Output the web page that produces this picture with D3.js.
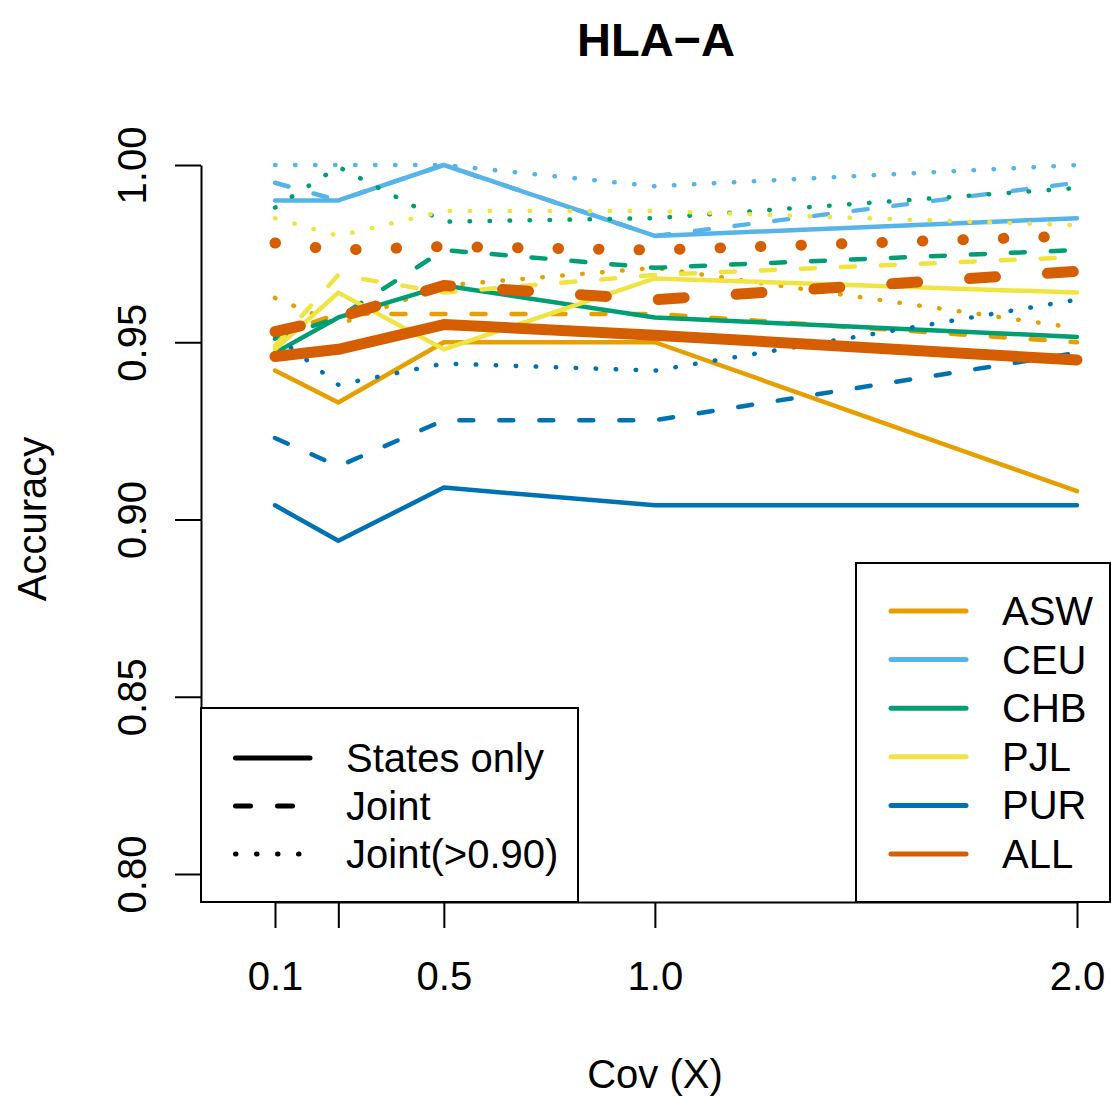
<!DOCTYPE html>
<html>
<head>
<meta charset="utf-8">
<script src="https://cdn.jsdelivr.net/npm/d3@7"></script>
<style>
body { margin: 0; background: #fff; }
svg { display: block; font-family: 'Liberation Sans', Arial, sans-serif; }
</style>
</head>
<body>
<svg></svg>
<script>
const width = 1111;
const height = 1100;

const coverage = [0.1, 0.25, 0.5, 1.0, 2.0];
const xTickLabels = ['0.1', '', '0.5', '1.0', '2.0'];
const yTicks = [0.80, 0.85, 0.90, 0.95, 1.00];
const populations = ['ASW', 'CEU', 'CHB', 'PJL', 'PUR', 'ALL'];
const colors = ['#E69F00', '#56B4E9', '#009E73', '#F0E442', '#0072B2', '#D55E00'];
const methods = ['States only', 'Joint', 'Joint(>0.90)'];

// one row per population, one value per coverage
const statesOnly = [
    [0.942, 0.933, 0.950, 0.950, 0.908],
    [0.990, 0.990, 1.000, 0.980, 0.985],
    [0.947, 0.957, 0.966, 0.957, 0.9515],
    [0.948, 0.964, 0.948, 0.968, 0.964],
    [0.904, 0.894, 0.909, 0.904, 0.904],
    [0.946, 0.948, 0.955, 0.952, 0.945]
];
const joint = [
    [0.952, 0.958, 0.958, 0.958, 0.950],
    [0.995, 0.990, 1.000, 0.980, 0.995],
    [0.951, 0.957, 0.976, 0.971, 0.976],
    [0.949, 0.969, 0.964, 0.969, 0.974],
    [0.923, 0.915, 0.928, 0.928, 0.947],
    [0.953, 0.957, 0.966, 0.962, 0.970]
];
const jointHigh = [
    [0.9625, 0.955, 0.966, 0.971, 0.954],
    [1.000, 1.000, 1.000, 0.994, 1.000],
    [0.988, 0.9995, 0.984, 0.985, 0.9935],
    [0.985, 0.980, 0.987, 0.987, 0.983],
    [0.952, 0.938, 0.944, 0.942, 0.962],
    [0.978, 0.976, 0.977, 0.976, 0.980]
];

const xScale = d3.scaleLinear()
    .domain([0.1, 2.0])
    .range([275, 1077]);

const yScale = d3.scaleLinear()
    .domain([0.8, 1.0])
    .range([874, 165]);

const svg = d3.select('svg')
    .attr('width', width)
    .attr('height', height);

// dash patterns per method, normal and thick (ALL) lines
const dashNormal = [null, '14,26', '0.5,19.5'];
const dashThick = [null, '26,52', '0.5,40'];
const seriesByMethod = [statesOnly, joint, jointHigh];

const line = d3.line()
    .x((d, i) => xScale(coverage[i]))
    .y((d) => yScale(d));

populations.forEach((pop, p) => {
    const thick = pop === 'ALL';
    seriesByMethod.forEach((series, m) => {
        svg.append('path')
            .attr('d', line(series[p]))
            .attr('fill', 'none')
            .attr('stroke', colors[p])
            .attr('stroke-width', thick ? 11 : 4.5)
            .attr('stroke-linecap', 'round')
            .attr('stroke-linejoin', 'round')
            .attr('stroke-dasharray', thick ? dashThick[m] : dashNormal[m]);
    });
});

const xAxis = d3.axisBottom(xScale)
    .tickValues(coverage)
    .tickFormat((d, i) => xTickLabels[i])
    .tickSize(26)
    .tickSizeOuter(0);

const yAxis = d3.axisLeft(yScale)
    .tickValues(yTicks)
    .tickFormat(d3.format('.2f'))
    .tickSize(26)
    .tickSizeOuter(0);

const gx = svg.append('g')
    .attr('transform', 'translate(0, 902)')
    .call(xAxis);

gx.selectAll('path, line').attr('stroke', '#000').attr('stroke-width', 2);
gx.selectAll('text')
    .attr('y', 88)
    .attr('dy', null)
    .attr('fill', '#000')
    .style('font-size', '40px')
    .style('font-family', "'Liberation Sans', Arial, sans-serif");

const gy = svg.append('g')
    .attr('transform', 'translate(201, 0)')
    .call(yAxis);

gy.selectAll('path, line').attr('stroke', '#000').attr('stroke-width', 2);
gy.selectAll('text')
    .attr('x', null)
    .attr('dy', null)
    .attr('transform', 'translate(-55, 0) rotate(-90)')
    .attr('text-anchor', 'middle')
    .attr('fill', '#000')
    .style('font-size', '40px')
    .style('font-family', "'Liberation Sans', Arial, sans-serif");

// legend: line types
const typeLegend = svg.append('g');
typeLegend.append('rect')
    .attr('x', 201)
    .attr('y', 708)
    .attr('width', 377)
    .attr('height', 194)
    .attr('fill', '#fff')
    .attr('stroke', '#000')
    .attr('stroke-width', 2);

methods.forEach((name, m) => {
    const y = 758 + m * 48;
    typeLegend.append('line')
        .attr('x1', 235.5)
        .attr('x2', 310)
        .attr('y1', y)
        .attr('y2', y)
        .attr('stroke', '#000')
        .attr('stroke-width', 5)
        .attr('stroke-linecap', 'round')
        .attr('stroke-dasharray', m === 0 ? null : (m === 1 ? '15,27' : '0.5,20.5'));
    typeLegend.append('text')
        .attr('x', 346)
        .attr('y', y + 14)
        .style('font-size', '40px')
        .text(name);
});

// legend: populations
const popLegend = svg.append('g');
popLegend.append('rect')
    .attr('x', 856)
    .attr('y', 563)
    .attr('width', 254)
    .attr('height', 339)
    .attr('fill', '#fff')
    .attr('stroke', '#000')
    .attr('stroke-width', 2);

populations.forEach((pop, p) => {
    const y = 611 + p * 48.6;
    popLegend.append('line')
        .attr('x1', 891)
        .attr('x2', 966)
        .attr('y1', y)
        .attr('y2', y)
        .attr('stroke', colors[p])
        .attr('stroke-width', 5)
        .attr('stroke-linecap', 'round');
    popLegend.append('text')
        .attr('x', 1002)
        .attr('y', y + 14)
        .style('font-size', '40px')
        .text(pop);
});

svg.append('text')
    .attr('x', 656)
    .attr('y', 56)
    .style('text-anchor', 'middle')
    .style('font-size', '47px')
    .style('font-weight', 'bold')
    .text('HLA\u2212A');

svg.append('text')
    .attr('x', 655)
    .attr('y', 1088)
    .style('text-anchor', 'middle')
    .style('font-size', '40px')
    .text('Cov (X)');

svg.append('text')
    .attr('transform', 'rotate(-90)')
    .attr('x', -519)
    .attr('y', 46)
    .style('text-anchor', 'middle')
    .style('font-size', '40px')
    .text('Accuracy');
</script>
</body>
</html>
